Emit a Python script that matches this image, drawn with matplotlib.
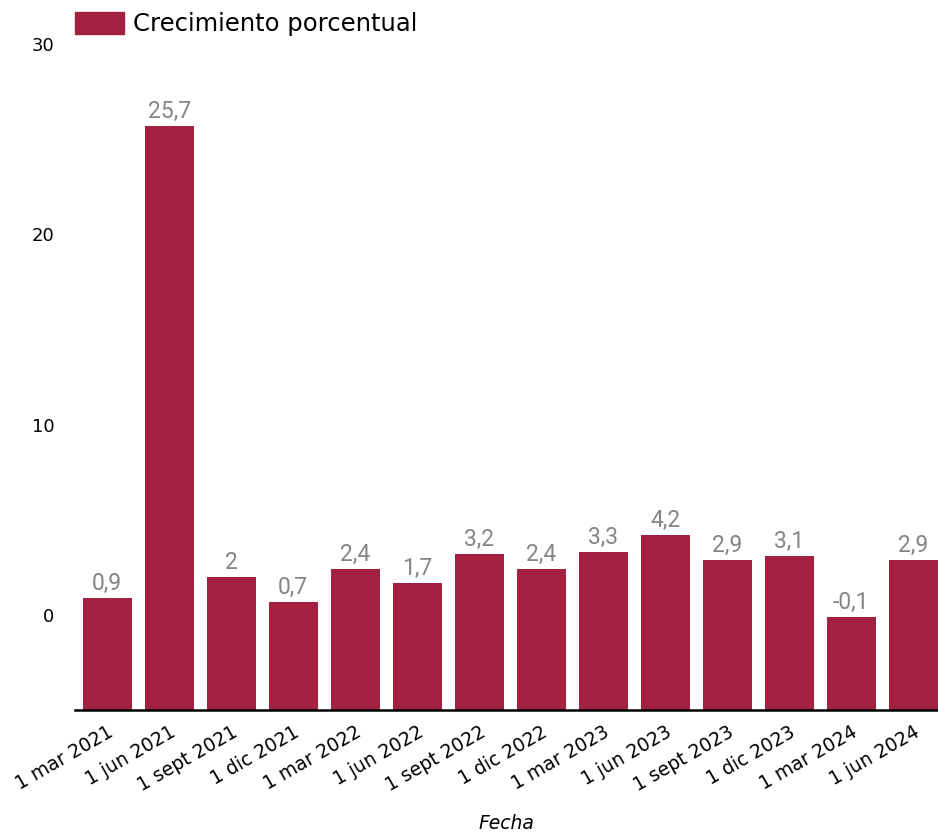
import numpy as np
import matplotlib
matplotlib.use("Agg")
from matplotlib import pyplot as plt
from matplotlib.patches import Patch

# Datos del gráfico
fechas = ["1 mar 2021", "1 jun 2021", "1 sept 2021", "1 dic 2021",
          "1 mar 2022", "1 jun 2022", "1 sept 2022", "1 dic 2022",
          "1 mar 2023", "1 jun 2023", "1 sept 2023", "1 dic 2023",
          "1 mar 2024", "1 jun 2024"]
crecimiento = [0.9, 25.7, 2, 0.7, 2.4, 1.7, 3.2, 2.4, 3.3, 4.2, 2.9, 3.1, -0.1, 2.9]
y_ticks = [0, 10, 20, 30]

color_barra = "#a22042"
base = -5
fuente = "DejaVu Sans"

fig = plt.figure(figsize=(9.38, 8.38), dpi=100)
ax = fig.add_axes([75 / 938, 128 / 838, 863 / 938, 666 / 838])

x = np.arange(len(fechas))
valores = np.array(crecimiento)
ax.bar(x, valores - base, bottom=base, width=0.79, color=color_barra)

# Etiquetas de valores
for xi, v in zip(x, valores):
    txt = f"{v:g}".replace(".", ",")
    ax.annotate(txt, (xi, v), xytext=(0, 2), textcoords="offset points",
                ha="center", va="bottom", fontsize=16.5, color="#858585",
                family="Roboto")

ax.set_ylim(base, 30)
ax.set_xlim(-0.52, 13.4)
ax.set_yticks(y_ticks)
ax.set_yticklabels([str(t) for t in y_ticks], family=fuente, fontsize=13)
ax.tick_params(axis="y", length=0, pad=15)
ax.set_xticks(x)
ax.set_xticklabels(fechas, rotation=30, ha="right", rotation_mode="anchor",
                   family=fuente, fontsize=13.5)
ax.tick_params(axis="x", length=0, pad=9)

for s in ["top", "right", "left"]:
    ax.spines[s].set_visible(False)
ax.spines["bottom"].set_linewidth(1.8)
ax.spines["bottom"].set_color("black")

ax.set_xlabel("Fecha", style="italic", family=fuente, fontsize=13.5, labelpad=14)

leg = ax.legend(handles=[Patch(color=color_barra, label="Crecimiento porcentual")],
                loc="upper left", bbox_to_anchor=(75 / 938, 826 / 838),
                bbox_transform=fig.transFigure, frameon=False,
                prop={"family": fuente, "size": 17.5},
                handlelength=2.0, handleheight=1.0, handletextpad=0.4,
                borderpad=0, borderaxespad=0)

fig.savefig("out.png", dpi=100)
